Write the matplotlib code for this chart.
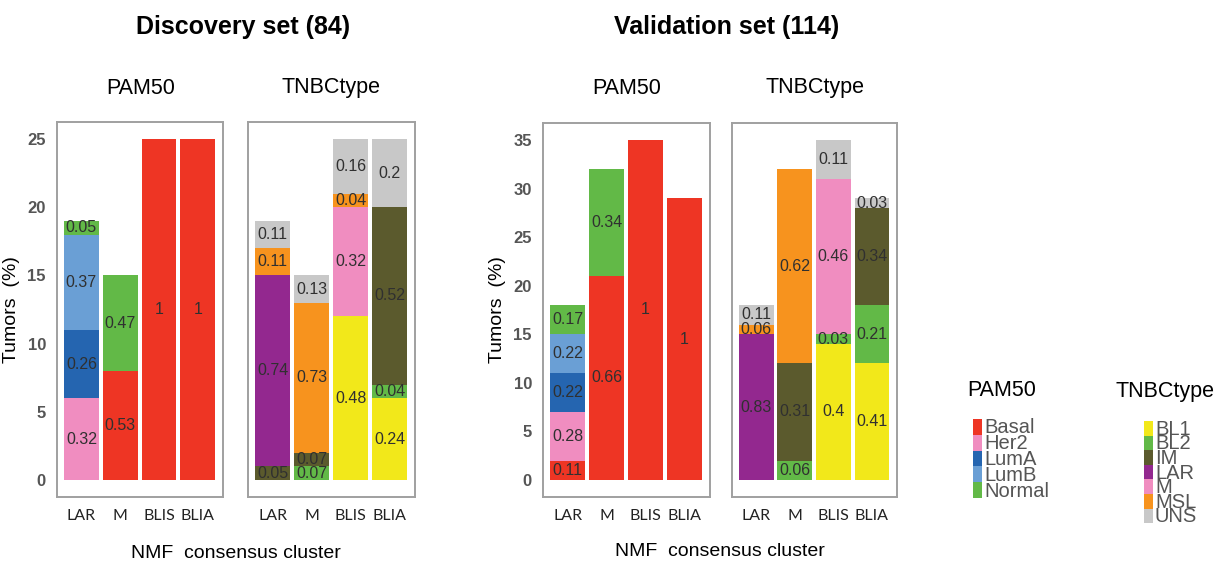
import matplotlib
matplotlib.use("Agg")
import matplotlib.pyplot as plt
from matplotlib.patches import Rectangle

clusters = ["LAR", "M", "BLIS", "BLIA"]

pam50_types = ["Basal", "Her2", "LumA", "LumB", "Normal"]
tnbc_types = ["BL1", "BL2", "IM", "LAR", "M", "MSL", "UNS"]

pam50_colors = {"Basal": "#ee3524", "Her2": "#f08dc0", "LumA": "#2565b0",
                "LumB": "#6a9fd5", "Normal": "#62b947"}
tnbc_colors = {"BL1": "#f2e81a", "BL2": "#62b947", "IM": "#5b5a2d",
               "LAR": "#93288f", "M": "#f08dc0", "MSL": "#f7931e", "UNS": "#c8c8c8"}

# counts per cluster (bottom -> top) and the fraction labels shown
disc_pam50 = {
    "LAR": [("Her2", 6, "0.32"), ("LumA", 5, "0.26"), ("LumB", 7, "0.37"), ("Normal", 1, "0.05")],
    "M": [("Basal", 8, "0.53"), ("Normal", 7, "0.47")],
    "BLIS": [("Basal", 25, "1")],
    "BLIA": [("Basal", 25, "1")],
}
disc_tnbc = {
    "LAR": [("IM", 1, "0.05"), ("LAR", 14, "0.74"), ("MSL", 2, "0.11"), ("UNS", 2, "0.11")],
    "M": [("BL2", 1, "0.07"), ("IM", 1, "0.07"), ("MSL", 11, "0.73"), ("UNS", 2, "0.13")],
    "BLIS": [("BL1", 12, "0.48"), ("M", 8, "0.32"), ("MSL", 1, "0.04"), ("UNS", 4, "0.16")],
    "BLIA": [("BL1", 6, "0.24"), ("BL2", 1, "0.04"), ("IM", 13, "0.52"), ("UNS", 5, "0.2")],
}
val_pam50 = {
    "LAR": [("Basal", 2, "0.11"), ("Her2", 5, "0.28"), ("LumA", 4, "0.22"), ("LumB", 4, "0.22"), ("Normal", 3, "0.17")],
    "M": [("Basal", 21, "0.66"), ("Normal", 11, "0.34")],
    "BLIS": [("Basal", 35, "1")],
    "BLIA": [("Basal", 29, "1")],
}
val_tnbc = {
    "LAR": [("LAR", 15, "0.83"), ("MSL", 1, "0.06"), ("UNS", 2, "0.11")],
    "M": [("BL2", 2, "0.06"), ("IM", 10, "0.31"), ("MSL", 20, "0.62")],
    "BLIS": [("BL1", 14, "0.4"), ("BL2", 1, "0.03"), ("M", 16, "0.46"), ("UNS", 4, "0.11")],
    "BLIA": [("BL1", 12, "0.41"), ("BL2", 6, "0.21"), ("IM", 10, "0.34"), ("UNS", 1, "0.03")],
}

W, H = 1222, 562
fig = plt.figure(figsize=(W / 100, H / 100), dpi=100)


def px_axes(x0, y0, x1, y1):
    return fig.add_axes([x0 / W, (H - y1) / H, (x1 - x0) / W, (y1 - y0) / H])


def draw_panel(ax, data, colors, ymax, yticks, show_y):
    for i, c in enumerate(clusters):
        bottom = 0
        for name, n, lab in data[c]:
            ax.bar(i, n, bottom=bottom, width=0.9, color=colors[name], linewidth=0)
            ax.text(i, bottom + n / 2, lab, ha="center", va="center",
                    fontsize=11.5, color="#303030", family="Liberation Sans")
            bottom += n
    ax.set_xlim(-0.63, 3.65)
    ax.set_ylim(-ymax * 0.05, ymax * 1.05)
    ax.set_xticks(range(4))
    ax.set_xticklabels(clusters, fontsize=11.5, family="Lato", color="#222222")
    ax.tick_params(axis="x", length=0, pad=9)
    if show_y:
        ax.set_yticks(yticks)
        ax.set_yticklabels([str(t) for t in yticks], fontsize=12, fontweight="bold",
                           family="Liberation Sans", color="#555555")
        ax.tick_params(axis="y", length=0, pad=8)
        ax.set_ylabel("Tumors  (%)", fontsize=14, family="Liberation Sans", labelpad=5)
    else:
        ax.set_yticks([])
    for s in ax.spines.values():
        s.set_color("#a0a0a0")
        s.set_linewidth(1.4)


ax1 = px_axes(57, 122, 223, 497)
draw_panel(ax1, disc_pam50, pam50_colors, 25, [0, 5, 10, 15, 20, 25], True)
ax2 = px_axes(248, 122, 415, 497)
draw_panel(ax2, disc_tnbc, tnbc_colors, 25, [], False)
ax3 = px_axes(543, 123, 710, 497)
draw_panel(ax3, val_pam50, pam50_colors, 35, [0, 5, 10, 15, 20, 25, 30, 35], True)
ax4 = px_axes(732, 123, 897, 497)
draw_panel(ax4, val_tnbc, tnbc_colors, 35, [], False)

# overlay in pixel coordinates for titles and legends
ov = fig.add_axes([0, 0, 1, 1])
ov.set_xlim(0, W)
ov.set_ylim(H, 0)
ov.axis("off")

txt = dict(family="Liberation Sans", ha="center", va="center")
ov.text(243, 27, "Discovery set (84)", fontsize=18, fontweight="bold", **txt)
ov.text(727, 27, "Validation set (114)", fontsize=18, fontweight="bold", **txt)
ov.text(141, 88, "PAM50", fontsize=15.5, **txt)
ov.text(331, 88, "TNBCtype", fontsize=15.5, **txt)
ov.text(627, 88, "PAM50", fontsize=15.5, **txt)
ov.text(815, 88, "TNBCtype", fontsize=15.5, **txt)
ov.text(236, 553, "NMF  consensus cluster", fontsize=14, **txt)
ov.text(720, 551, "NMF  consensus cluster", fontsize=14, **txt)

# legends
ov.text(1002, 391, "PAM50", fontsize=15.5, **txt)
ov.text(1165, 391, "TNBCtype", fontsize=15.5, **txt)


def draw_legend(x, y0, step, names, colors):
    for k, name in enumerate(names):
        y = y0 + k * step
        ov.add_patch(Rectangle((x, y), 9, step, color=colors[name], linewidth=0))
        ov.text(x + 11, y + step / 2 + 1, name, fontsize=14.5, color="#555555",
                family="Liberation Sans", ha="left", va="center")


draw_legend(973, 419, 15.8, pam50_types, pam50_colors)
draw_legend(1144, 421, 14.6, tnbc_types, tnbc_colors)

fig.savefig("out.png", dpi=100)
